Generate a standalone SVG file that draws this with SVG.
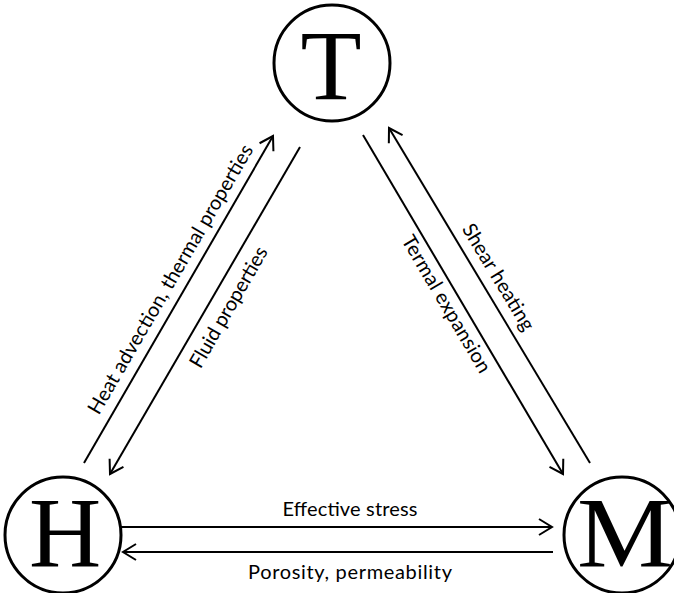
<svg xmlns="http://www.w3.org/2000/svg" width="674" height="593" viewBox="0 0 674 593">
  <style>
    .node circle { fill: #fff; stroke: #000; stroke-width: 3; }
    .letter { font-family: "Liberation Serif", "Times New Roman", serif; font-size: 100px; fill: #000; text-anchor: middle; }
    .conn line { stroke: #000; stroke-width: 2; marker-end: url(#arrow); }
    .label { font-family: Lato, "Open Sans", "Liberation Sans", sans-serif; font-size: 20px; fill: #000; text-anchor: middle; }
  </style>
  <defs>
    <marker id="arrow" viewBox="-16 -10 20 20" markerWidth="20" markerHeight="20" refX="0" refY="0" orient="auto" markerUnits="userSpaceOnUse" overflow="visible">
      <path d="M-13,-8 L0,0 L-13,8" fill="none" stroke="#000" stroke-width="2" stroke-linejoin="miter"/>
    </marker>
  </defs>
  <rect width="674" height="593" fill="#fff"/>

  <g id="node-T" class="node">
    <circle cx="332" cy="63" r="58"/>
    <text class="letter" x="331" y="99">T</text>
  </g>
  <g id="node-H" class="node">
    <circle cx="63" cy="535" r="58"/>
    <text class="letter" x="65" y="566">H</text>
  </g>
  <g id="node-M" class="node">
    <circle cx="622" cy="535" r="58"/>
    <text class="letter" x="625" y="566" textLength="96" lengthAdjust="spacingAndGlyphs">M</text>
  </g>

  <g id="connectors" class="conn">
    <line x1="84" y1="463" x2="273" y2="136"/>
    <line x1="300" y1="147" x2="110" y2="474"/>
    <line x1="363" y1="135" x2="563" y2="474"/>
    <line x1="590" y1="463" x2="389" y2="128"/>
    <line x1="120" y1="527" x2="552" y2="527"/>
    <line x1="553" y1="552" x2="123" y2="552"/>
  </g>

  <g id="labels">
    <text class="label" transform="translate(176.3,282.6) rotate(-59.8)" textLength="308">Heat advection, thermal properties</text>
    <text class="label" transform="translate(234.4,310.5) rotate(-60)" textLength="136">Fluid properties</text>
    <text class="label" transform="translate(440.7,307.5) rotate(59.5)" textLength="156">Termal expansion</text>
    <text class="label" transform="translate(492.7,280.5) rotate(58.9)" textLength="121">Shear heating</text>
    <text class="label" x="350" y="516" textLength="135">Effective stress</text>
    <text class="label" x="350" y="579" textLength="204">Porosity, permeability</text>
  </g>
</svg>
